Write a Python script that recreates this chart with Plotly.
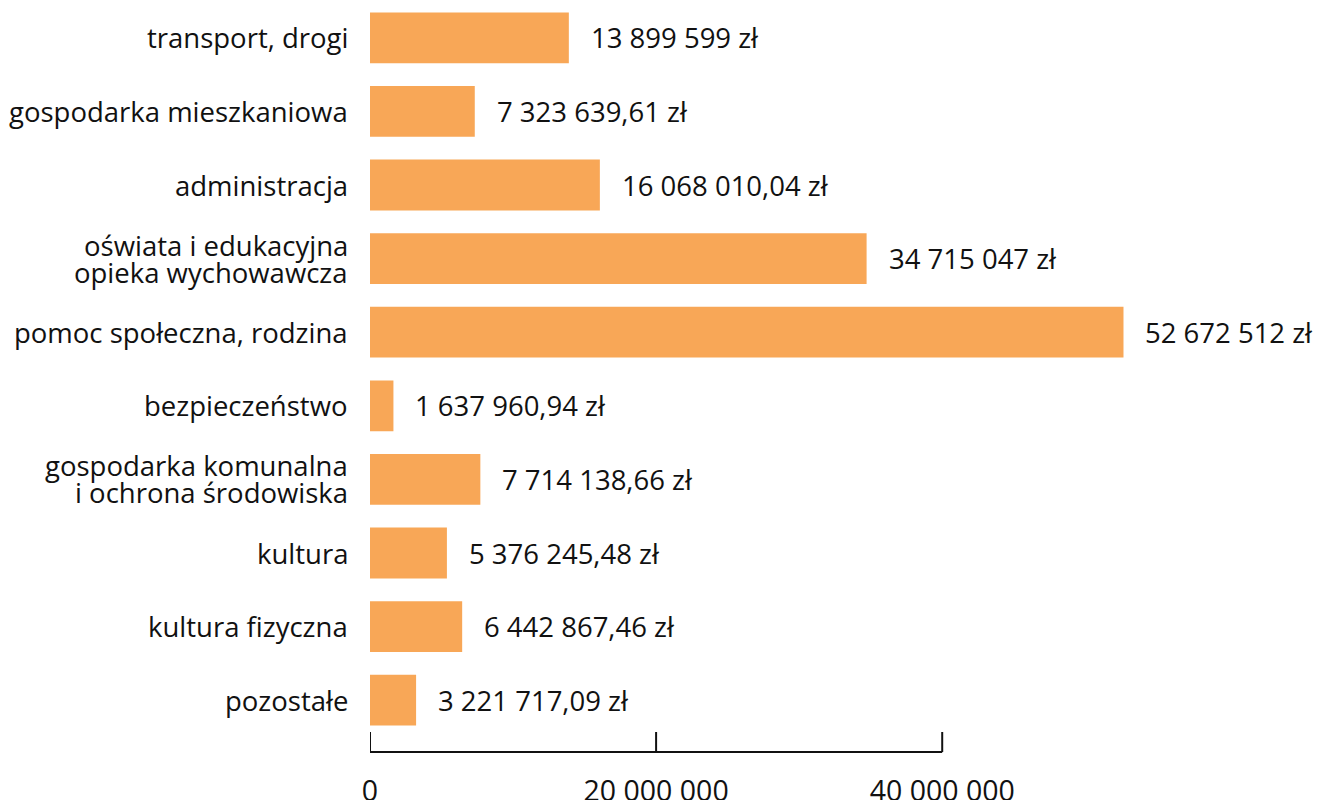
import plotly.graph_objects as go

categories = [
    "transport, drogi",
    "gospodarka mieszkaniowa",
    "administracja",
    "oświata i edukacyjna<br>opieka wychowawcza",
    "pomoc społeczna, rodzina",
    "bezpieczeństwo",
    "gospodarka komunalna<br>i ochrona środowiska",
    "kultura",
    "kultura fizyczna",
    "pozostałe",
]
values = [
    13899599,
    7323639.61,
    16068010.04,
    34715047,
    52672512,
    1637960.94,
    7714138.66,
    5376245.48,
    6442867.46,
    3221717.09,
]
tick_values = [0, 20000000, 40000000]


def fmt_pl(v, money=True):
    if float(v).is_integer():
        s = f"{int(v):,}".replace(",", " ")
    else:
        s = f"{v:,.2f}".replace(",", " ").replace(".", ",")
    return s + (" zł" if money else "")


value_labels = [fmt_pl(v) for v in values]
tick_text = [fmt_pl(v, money=False) for v in tick_values]

FONT = "Open Sans"
BAR = "#F8A757"
INK = "#111111"
LABEL_SIZE = 27.5
LINE_STEP = 27  # px between lines of a wrapped category label

fig = go.Figure()
fig.add_trace(go.Bar(
    x=values, y=categories, orientation="h",
    marker=dict(color=BAR, line=dict(width=0)),
    hoverinfo="skip",
))

# value labels to the right of each bar
for c, v, t in zip(categories, values, value_labels):
    fig.add_annotation(
        x=v, y=c, text=t, showarrow=False, xanchor="left", yanchor="middle",
        xshift=20, font=dict(family=FONT, size=LABEL_SIZE, color=INK),
    )

# category labels (tight line spacing for wrapped labels)
for c in categories:
    lines = c.split("<br>")
    n = len(lines)
    for i, ln in enumerate(lines):
        fig.add_annotation(
            x=0, xref="paper", y=c, yref="y", text=ln, showarrow=False,
            xanchor="right", yanchor="middle", xshift=-20,
            yshift=((n - 1) / 2 - i) * LINE_STEP,
            font=dict(family=FONT, size=LABEL_SIZE, color=INK),
        )

# bottom axis line (spans only the tick range) and upward ticks
fig.add_shape(type="line", xref="x", yref="paper", ysizemode="pixel", yanchor=0,
              x0=tick_values[0], x1=tick_values[-1], y0=-15, y1=-15,
              line=dict(color=INK, width=2))
for tv in tick_values:
    fig.add_shape(type="line", xref="x", yref="paper", ysizemode="pixel", yanchor=0,
                  x0=tv, x1=tv, y0=-15, y1=5,
                  line=dict(color=INK, width=2))

fig.update_layout(
    width=1317, height=800,
    margin=dict(l=370, r=0, t=1, b=63),
    paper_bgcolor="white", plot_bgcolor="white",
    bargap=0.31,
    showlegend=False,
    font=dict(family=FONT, size=25, color=INK),
    xaxis=dict(
        range=[0, 66.2e6], showgrid=False, zeroline=False, showline=False,
        tickvals=tick_values, ticktext=tick_text, ticks="", automargin=False,
        ticklabelstandoff=34, tickfont=dict(family=FONT, size=28.5, color=INK),
    ),
    yaxis=dict(
        autorange="reversed", showgrid=False, zeroline=False, showline=False,
        ticks="", showticklabels=False, automargin=False,
    ),
)

fig.write_html("out.html", config={"displayModeBar": False},
               post_script="document.body.style.margin='0';")
